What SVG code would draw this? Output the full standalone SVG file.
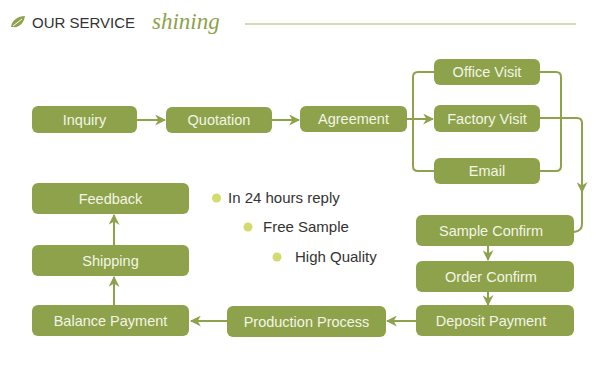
<svg xmlns="http://www.w3.org/2000/svg" width="600" height="368" viewBox="0 0 600 368">
<defs>
<style>
.box{fill:#8da24a}
.lbl{font-family:"Liberation Sans",Arial,sans-serif;font-size:14.5px;fill:#f3f5e6;text-anchor:middle}
.con{fill:none;stroke:#8da24a;stroke-width:2}
.blt{font-family:"Liberation Sans",Arial,sans-serif;font-size:15px;fill:#333}
.dot{fill:#d3da6e}
</style>
<marker id="ah" viewBox="0 0 10 10" refX="9" refY="5" markerWidth="5.5" markerHeight="5.5" orient="auto" markerUnits="strokeWidth">
<path d="M0,0 L10,5 L0,10 L3,5 z" fill="#8da24a"/>
</marker>
</defs>
<rect width="600" height="368" fill="#ffffff"/>
<g id="header">
<path d="M11,27 C12,20 18,16 25,16 C24,23 19,28 13,27 Z" fill="#8da24a"/>
<path d="M13,26 L22,19" stroke="#ffffff" stroke-width="1"/>
<text x="32" y="28" font-family="'Liberation Sans',Arial,sans-serif" font-size="15" fill="#333">OUR SERVICE</text>
<text x="152" y="29" font-family="'Liberation Serif','Times New Roman',serif" font-style="italic" font-size="23" fill="#8da24a">shining</text>
<line x1="245" y1="24" x2="576" y2="24" stroke="#a9b56c" stroke-width="1"/>
</g>
<g id="connectors">
<line class="con" x1="137" y1="120" x2="165" y2="120" marker-end="url(#ah)"/>
<line class="con" x1="272" y1="120" x2="299" y2="120" marker-end="url(#ah)"/>
<line class="con" x1="407" y1="119" x2="433" y2="119" marker-end="url(#ah)"/>
<path class="con" d="M434,72 L418,72 Q413,72 413,77 L413,166 Q413,171 418,171 L434,171"/>
<path class="con" d="M540,72 L556,72 Q561,72 561,77 L561,166 Q561,171 556,171 L540,171"/>
<path class="con" d="M540,118 L577,118 Q582,118 582,123 L582,192" marker-end="url(#ah)"/>
<path class="con" d="M582,190 L582,224 Q582,231 574,232"/>
<line class="con" x1="488" y1="246" x2="488" y2="260" marker-end="url(#ah)"/>
<line class="con" x1="488" y1="291" x2="488" y2="305" marker-end="url(#ah)"/>
<line class="con" x1="416" y1="321" x2="387" y2="321" marker-end="url(#ah)"/>
<line class="con" x1="227" y1="321" x2="191" y2="321" marker-end="url(#ah)"/>
<line class="con" x1="114" y1="305" x2="114" y2="277" marker-end="url(#ah)" stroke-width="2.5"/>
<line class="con" x1="114" y1="245" x2="114" y2="215" marker-end="url(#ah)" stroke-width="2.5"/>
</g>
<g id="n-inquiry"><rect class="box" x="32" y="106" width="105" height="27" rx="6"/><text class="lbl" x="84.5" y="124.5">Inquiry</text></g>
<g id="n-quotation"><rect class="box" x="166" y="107" width="106" height="26" rx="6"/><text class="lbl" x="219" y="125">Quotation</text></g>
<g id="n-agreement"><rect class="box" x="300" y="106" width="107" height="26" rx="6"/><text class="lbl" x="353.5" y="124">Agreement</text></g>
<g id="n-office"><rect class="box" x="434" y="59" width="106" height="26" rx="6"/><text class="lbl" x="487" y="77">Office Visit</text></g>
<g id="n-factory"><rect class="box" x="434" y="105" width="106" height="27" rx="6"/><text class="lbl" x="487" y="123.5">Factory Visit</text></g>
<g id="n-email"><rect class="box" x="434" y="158" width="106" height="26" rx="6"/><text class="lbl" x="487" y="176">Email</text></g>
<g id="n-sample"><rect class="box" x="416" y="215" width="158" height="31" rx="6"/><text class="lbl" x="491" y="235.5">Sample Confirm</text></g>
<g id="n-order"><rect class="box" x="416" y="261" width="158" height="31" rx="6"/><text class="lbl" x="491" y="281.5">Order Confirm</text></g>
<g id="n-deposit"><rect class="box" x="416" y="305" width="158" height="31" rx="6"/><text class="lbl" x="491" y="325.5">Deposit Payment</text></g>
<g id="n-production"><rect class="box" x="227" y="306" width="159" height="31" rx="6"/><text class="lbl" x="306.5" y="326.5">Production Process</text></g>
<g id="n-balance"><rect class="box" x="32" y="305" width="157" height="31" rx="6"/><text class="lbl" x="110.5" y="325.5">Balance Payment</text></g>
<g id="n-shipping"><rect class="box" x="32" y="245" width="157" height="31" rx="6"/><text class="lbl" x="110.5" y="265.5">Shipping</text></g>
<g id="n-feedback"><rect class="box" x="32" y="183" width="157" height="31" rx="6"/><text class="lbl" x="110.5" y="203.5">Feedback</text></g>
<g id="bullets">
<circle class="dot" cx="216.5" cy="198" r="4.5"/><text class="blt" x="228" y="203">In 24 hours reply</text>
<circle class="dot" cx="248" cy="227" r="4.5"/><text class="blt" x="263" y="232">Free Sample</text>
<circle class="dot" cx="277" cy="257" r="4.5"/><text class="blt" x="295" y="262">High Quality</text>
</g>
</svg>
